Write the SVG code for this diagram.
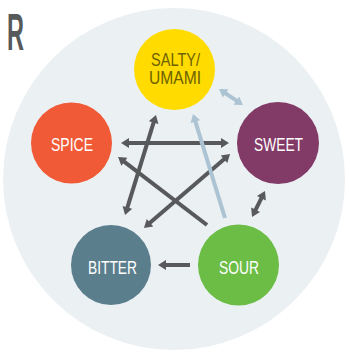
<svg xmlns="http://www.w3.org/2000/svg" width="350" height="361" viewBox="0 0 350 361">
<style>
.lbl{font-family:"Liberation Sans","DejaVu Sans",sans-serif;font-size:19px;fill:#ffffff;text-anchor:middle}
.dk{stroke:#58595b;stroke-width:4;fill:none}
.lt{stroke:#abc3d2;stroke-width:4;fill:none}
</style>
<defs>
<marker id="ad" markerUnits="userSpaceOnUse" markerWidth="10" markerHeight="10" refX="2" refY="5" orient="auto-start-reverse" viewBox="0 0 8 10">
<path d="M0,0 L8,5 L0,10 z" fill="#58595b"/>
</marker>
<marker id="al" markerUnits="userSpaceOnUse" markerWidth="10" markerHeight="10" refX="2" refY="5" orient="auto-start-reverse" viewBox="0 0 8 10">
<path d="M0,0 L8,5 L0,10 z" fill="#abc3d2"/>
</marker>
</defs>
<rect width="350" height="361" fill="#ffffff"/>
<text x="7" y="50" font-family="Liberation Sans, sans-serif" font-size="52" font-weight="bold" fill="#58595b" textLength="17" lengthAdjust="spacingAndGlyphs">R</text>
<circle cx="174" cy="179" r="171" fill="#ebf0f3"/>
<g id="connectors">
<line class="dk" x1="127" y1="143" x2="223" y2="143" marker-start="url(#ad)" marker-end="url(#ad)"/>
<line class="dk" x1="207" y1="225" x2="122.8" y2="160.6" marker-end="url(#ad)"/>
<line class="dk" x1="225.5" y1="157.9" x2="148.5" y2="224.1" marker-start="url(#ad)" marker-end="url(#ad)"/>
<line class="dk" x1="154.2" y1="120.7" x2="126.8" y2="209.3" marker-start="url(#ad)" marker-end="url(#ad)"/>
<line class="lt" x1="225" y1="218" x2="194.8" y2="119.7" marker-end="url(#al)"/>
<line class="lt" x1="224" y1="92.3" x2="238" y2="101.7" marker-start="url(#al)" marker-end="url(#al)"/>
<line class="dk" x1="262.3" y1="196.4" x2="254.7" y2="211.6" marker-start="url(#ad)" marker-end="url(#ad)"/>
<line class="dk" x1="190" y1="265" x2="164" y2="265" marker-end="url(#ad)"/>
</g>
<g id="salty">
<circle cx="174.5" cy="69.5" r="40.5" fill="#ffdb00"/>
<text class="lbl" x="175.5" y="66" style="fill:#6d6200;font-size:17.5px" textLength="49" lengthAdjust="spacingAndGlyphs">SALTY/</text>
<text class="lbl" x="175" y="84" style="fill:#6d6200;font-size:17.5px" textLength="52" lengthAdjust="spacingAndGlyphs">UMAMI</text>
</g>
<g id="spice">
<circle cx="71.5" cy="143" r="40.5" fill="#f15a36"/>
<text class="lbl" x="72" y="151" textLength="42" lengthAdjust="spacingAndGlyphs">SPICE</text>
</g>
<g id="sweet">
<circle cx="278" cy="143" r="41" fill="#823a67"/>
<text class="lbl" x="278.5" y="151" textLength="49" lengthAdjust="spacingAndGlyphs">SWEET</text>
</g>
<g id="bitter">
<circle cx="111" cy="265" r="40" fill="#5b7e8d"/>
<text class="lbl" x="112.5" y="274" textLength="49" lengthAdjust="spacingAndGlyphs">BITTER</text>
</g>
<g id="sour">
<circle cx="238.5" cy="265" r="40.5" fill="#6bbd45"/>
<text class="lbl" x="239" y="274" textLength="40" lengthAdjust="spacingAndGlyphs">SOUR</text>
</g>
</svg>
